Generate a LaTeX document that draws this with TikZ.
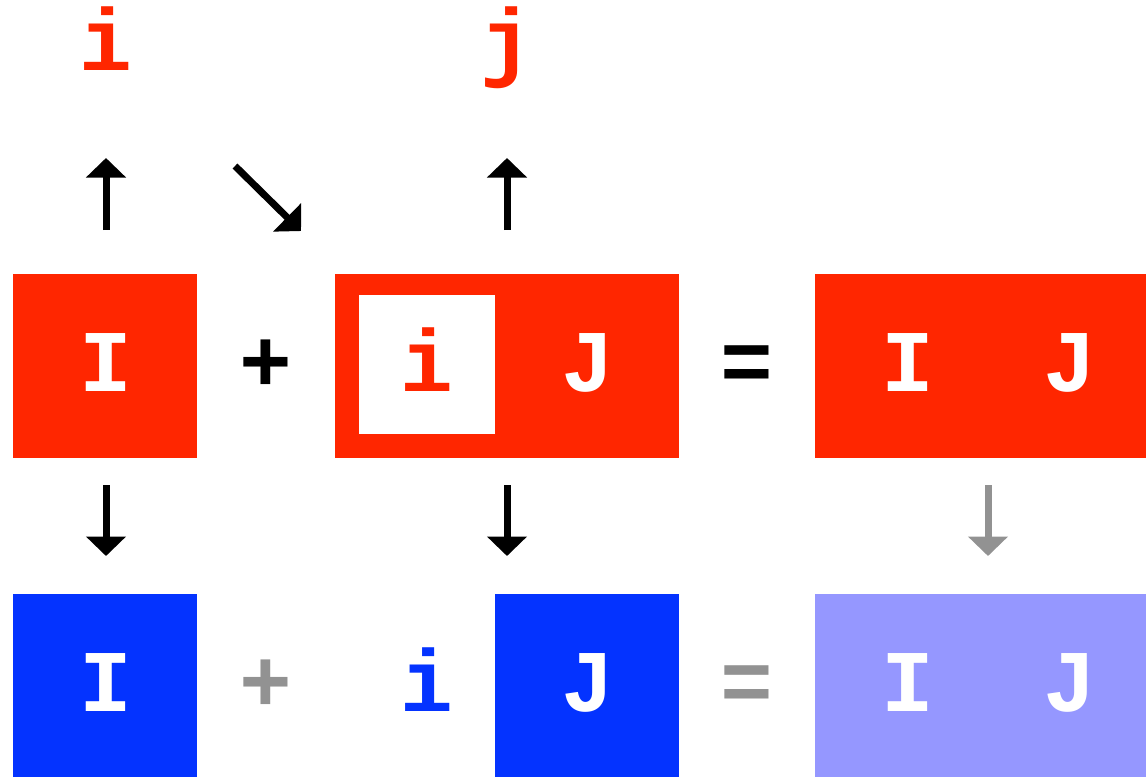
\documentclass[tikz,border=0pt]{standalone}
\usepackage{fontspec}
\setmonofont{Liberation Mono}
\usetikzlibrary{arrows.meta}
\definecolor{rd}{HTML}{FF2600}
\definecolor{bl}{HTML}{0433FF}
\definecolor{lb}{HTML}{9597FF}
\definecolor{gr}{HTML}{929292}
\tikzset{
  glyph/.style={font=\fontsize{88}{88}\selectfont\ttfamily\bfseries, anchor=base, inner sep=0pt},
  box/.style={draw=none, inner sep=0pt},
  arr/.style={line width=7pt, -{Triangle[width=39pt,length=19.5pt]}},
}
\begin{document}
\begin{tikzpicture}[x=1pt,y=-1pt]
\useasboundingbox (0,0) rectangle (1146,777);
% boxes row 1
\fill[rd] (13,274) rectangle (197,458);
\fill[rd] (335,274) rectangle (679,458);
\fill[white] (359,295) rectangle (495,434);
\fill[rd] (815,274) rectangle (1146,458);
% boxes row 2
\fill[bl] (13,594) rectangle (197,777);
\fill[bl] (495,594) rectangle (679,777);
\fill[lb] (815,594) rectangle (1146,777);
% top labels
\node[glyph, text=rd] (ti) at (106,70) {i};
\node[glyph, text=rd] (tj) at (507,70) {j};
% row 1 texts
\node[glyph, text=white] (aI) at (106,391) {I};
\node[glyph] (plus1) at (266,391) {+};
\node[glyph, text=rd] (bi) at (427,391) {i};
\node[glyph, text=white] (bJ) at (588,391) {J};
\node[glyph] (eq1) at (747,391) {=};
\node[glyph, text=white] (cI) at (908,391) {I};
\node[glyph, text=white] (cJ) at (1070,391) {J};
% row 2 texts
\node[glyph, text=white] (dI) at (106,711) {I};
\node[glyph, text=gr] (plus2) at (266,711) {+};
\node[glyph, text=bl] (di) at (427,711) {i};
\node[glyph, text=white] (eJ) at (588,711) {J};
\node[glyph, text=gr] (eq2) at (747,711) {=};
\node[glyph, text=white] (fI) at (908,711) {I};
\node[glyph, text=white] (fJ) at (1070,711) {J};
% arrow end points
\coordinate (u1s) at (106,230); \coordinate (u1e) at (106,158);
\coordinate (dgs) at (235,166); \coordinate (dge) at (301,231);
\coordinate (u2s) at (507,230); \coordinate (u2e) at (507,158);
\coordinate (d1s) at (106,485); \coordinate (d1e) at (106,556);
\coordinate (d2s) at (507,485); \coordinate (d2e) at (507,556);
\coordinate (d3s) at (988,485); \coordinate (d3e) at (988,556);
\draw[arr] (u1s) -- (u1e);
\draw[arr] (dgs) -- (dge);
\draw[arr] (u2s) -- (u2e);
\draw[arr] (d1s) -- (d1e);
\draw[arr] (d2s) -- (d2e);
\draw[arr, gr] (d3s) -- (d3e);
\end{tikzpicture}
\end{document}
